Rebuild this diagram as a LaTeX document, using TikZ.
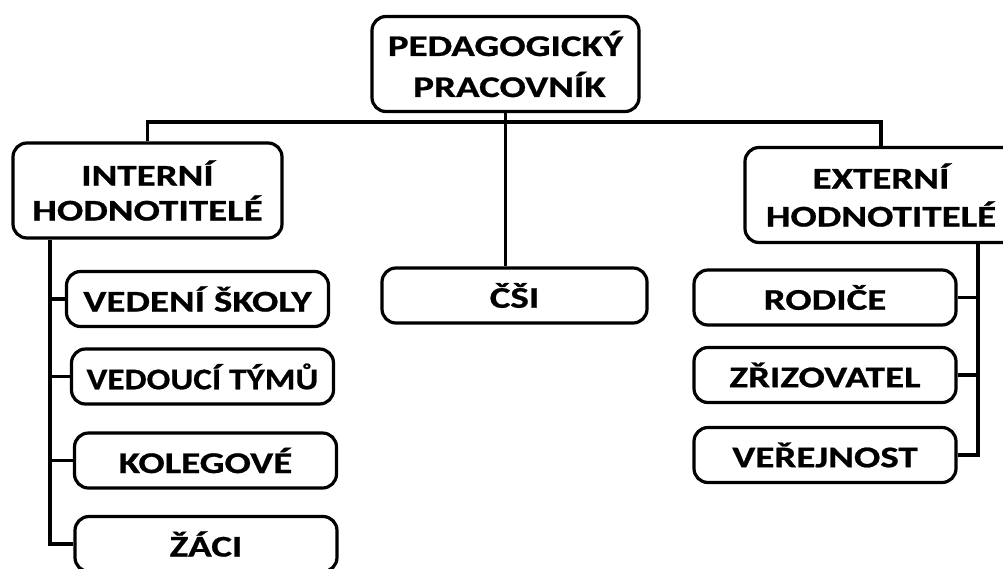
\documentclass[tikz,border=0pt]{standalone}
\usepackage{fontspec}
\setmainfont{Carlito}[FakeStretch=1.3,FakeBold=0.8]
\begin{document}
\begin{tikzpicture}[x=1pt,y=1pt,line width=3.2pt,
  box/.style={draw,rounded corners=14pt,align=center,inner sep=0pt,
    font=\fontsize{30}{36}\selectfont\bfseries},
  head/.style={box,minimum height=95pt},
  leaf/.style={box,minimum width=262pt,minimum height=55pt}]
\useasboundingbox (0,0) rectangle (1003,-568);
\node[head,minimum width=267pt] (ped) at (505.5,-64) {PEDAGOGICKÝ\\[5pt]\hspace*{8pt}PRACOVNÍK};
\node[head,minimum width=269pt] (int) at (147.5,-190.5) {INTERNÍ\\[-1pt]HODNOTITELÉ};
\node[head,minimum width=272pt] (ext) at (881,-195) {EXTERNÍ\\[2pt]HODNOTITELÉ};
\node[leaf,minimum width=265pt] (csi) at (514.5,-295.5) {ČŠI};
\node[leaf] (vedeni) at (197.5,-299) {VEDENÍ ŠKOLY};
\node[leaf] (vedouci) at (202.5,-376.5) {\scalebox{0.9}[1]{VEDOUCÍ TÝMŮ}};
\node[leaf] (kolegove) at (205.5,-460.5) {KOLEGOVÉ};
\node[leaf] (zaci) at (206,-544) {ŽÁCI};
\node[leaf] (rodice) at (825,-297.5) {RODIČE};
\node[leaf] (zrizovatel) at (825,-375) {ZŘIZOVATEL};
\node[leaf] (verejnost) at (825,-455) {VEŘEJNOST};
\coordinate (bus) at (505.5,-122);
\coordinate (ltrunk) at (50,-238);
\coordinate (rtrunk) at (978,-242);
% tree lines
\draw (int.north) |- (bus) -| (ext.north);
\draw (ped.south) -- (ped.south |- csi.north);
\draw (ltrunk |- int.south) |- (zaci.west);
\foreach \n in {vedeni,vedouci,kolegove}
  \draw (\n.west) -- (\n.west -| ltrunk);
\draw (rtrunk |- ext.south) |- (verejnost.east);
\foreach \n in {rodice,zrizovatel}
  \draw (\n.east) -- (\n.east -| rtrunk);
\end{tikzpicture}
\end{document}
